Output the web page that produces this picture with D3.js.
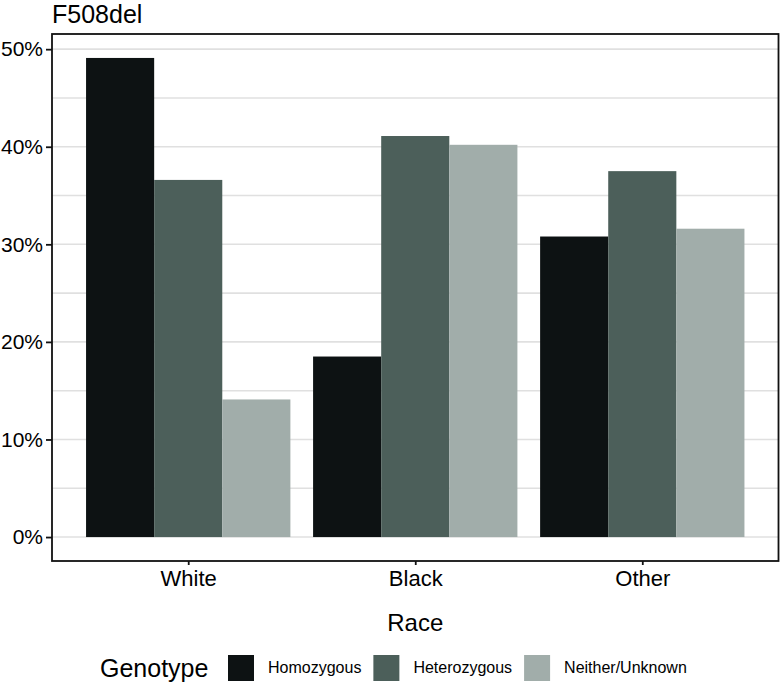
<!DOCTYPE html>
<html>
<head>
<meta charset="utf-8">
<script src="https://cdn.jsdelivr.net/npm/d3@7"></script>
<style>
  body { margin: 0; background: #fff; }
  text { font-family: "Liberation Sans", Arial, Helvetica, sans-serif; fill: #000; }
</style>
</head>
<body>
<div id="chart"></div>
<script>
// DATA
var races = ["White", "Black", "Other"];
var genotypes = ["Homozygous", "Heterozygous", "Neither/Unknown"];
var homozygous = [0.491, 0.185, 0.308];
var heterozygous = [0.366, 0.411, 0.375];
var neither = [0.141, 0.402, 0.316];
var yTicks = [0, 0.1, 0.2, 0.3, 0.4, 0.5];
var colors = ["#0d1213", "#4c5f5a", "#a1adaa"];

var series = [homozygous, heterozygous, neither];
var data = [];
races.forEach(function(r, i) {
    genotypes.forEach(function(g, j) {
        data.push({race: r, ri: i + 1, geno: g, gi: j, value: series[j][i]});
    });
});

// SET UP
var width = 780, height = 690;
var panel = {left: 52, right: 778.5, top: 34, bottom: 561};

var svg = d3.select("#chart").append("svg")
    .attr("width", width)
    .attr("height", height);

// Scales (ggplot-style expansion)
var xScale = d3.scaleLinear()
    .domain([0.4, 3.6])
    .range([panel.left, panel.right]);

var maxV = d3.max(data, function(d) { return d.value; });
var pad = maxV * 0.05;
var yScale = d3.scaleLinear()
    .domain([-pad, maxV + pad])
    .range([panel.bottom, panel.top]);

// Gridlines (major + minor)
var minor = yTicks.slice(0, -1).map(function(t) { return t + 0.05; });
svg.append("g")
    .selectAll("line")
    .data(yTicks.concat(minor))
    .join("line")
    .attr("x1", panel.left)
    .attr("x2", panel.right)
    .attr("y1", function(d) { return yScale(d); })
    .attr("y2", function(d) { return yScale(d); })
    .attr("stroke", "#e0e0e0")
    .attr("stroke-width", 1.6);

// Bars
var barW = 0.3;
svg.append("g")
    .selectAll("rect")
    .data(data)
    .join("rect")
    .attr("x", function(d) { return xScale(d.ri - 0.45 + d.gi * barW); })
    .attr("width", function(d) { return xScale(d.ri - 0.45 + (d.gi + 1) * barW) - xScale(d.ri - 0.45 + d.gi * barW); })
    .attr("y", function(d) { return yScale(d.value); })
    .attr("height", function(d) { return yScale(0) - yScale(d.value); })
    .attr("fill", function(d) { return colors[d.gi]; });

// Panel border
svg.append("rect")
    .attr("x", panel.left)
    .attr("y", panel.top)
    .attr("width", panel.right - panel.left)
    .attr("height", panel.bottom - panel.top)
    .attr("fill", "none")
    .attr("stroke", "#111")
    .attr("stroke-width", 1.8);

// Y axis
var yAxis = svg.append("g")
    .attr("transform", "translate(" + panel.left + ",0)")
    .call(d3.axisLeft(yScale).tickValues(yTicks).tickFormat(d3.format(".0%")).tickSize(6).tickPadding(3));
yAxis.select(".domain").remove();
yAxis.selectAll(".tick line").attr("stroke", "#111").attr("stroke-width", 1.8);
yAxis.selectAll("text")
    .attr("font-size", "21px")
    .attr("font-family", "Liberation Sans, Arial, sans-serif")
    .attr("fill", "#000");

// X axis
var xAxis = svg.append("g")
    .attr("transform", "translate(0," + panel.bottom + ")")
    .call(d3.axisBottom(xScale).tickValues([1, 2, 3]).tickFormat(function(d) { return races[d - 1]; }).tickSize(4).tickPadding(5));
xAxis.select(".domain").remove();
xAxis.selectAll(".tick line").attr("stroke", "#111").attr("stroke-width", 1.8);
xAxis.selectAll("text")
    .attr("font-size", "22px")
    .attr("font-family", "Liberation Sans, Arial, sans-serif")
    .attr("fill", "#000");

// Title
svg.append("text")
    .attr("x", 52)
    .attr("y", 23)
    .attr("font-size", "25px")
    .text("F508del");

// X axis title
svg.append("text")
    .attr("x", (panel.left + panel.right) / 2)
    .attr("y", 631)
    .attr("font-size", "24px")
    .style("text-anchor", "middle")
    .text("Race");

// LEGEND
var legend = svg.append("g");
legend.append("text")
    .attr("x", 100)
    .attr("y", 677)
    .attr("font-size", "25px")
    .text("Genotype");

var lx = 228;
genotypes.forEach(function(g, j) {
    legend.append("rect")
        .attr("x", lx)
        .attr("y", 655)
        .attr("width", 26)
        .attr("height", 26)
        .attr("fill", colors[j]);
    var t = legend.append("text")
        .attr("x", lx + 40)
        .attr("y", 673)
        .attr("font-size", "16px")
        .text(g);
    lx = lx + 40 + t.node().getComputedTextLength() + 12;
});
</script>
</body>
</html>
